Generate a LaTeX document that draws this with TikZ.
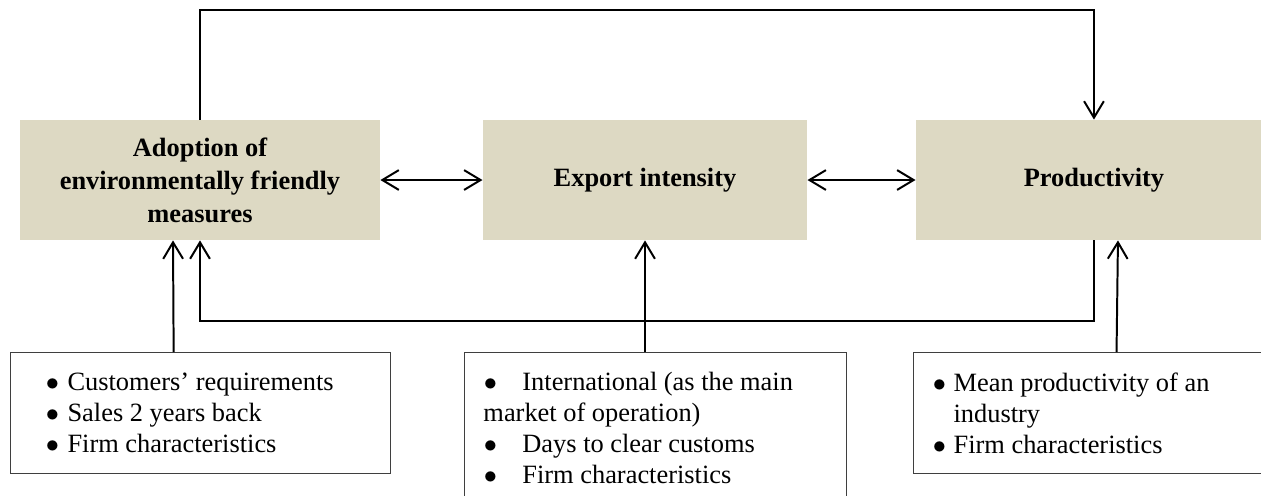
\documentclass[tikz,border=0pt]{standalone}
\usepackage{fontspec}
\setmainfont{Liberation Serif}
\usepackage{tikz}
\usetikzlibrary{arrows.meta,positioning,calc}
\definecolor{fgTan}{HTML}{DDD9C3}
\definecolor{fgInk}{HTML}{000000}
\definecolor{fgFrame}{HTML}{3F3F3F}
\newcommand{\bul}{$\bullet$}
\tikzset{
  % Tan outcome box
  mainbox/.style={rectangle,minimum height=54.5pt,
    align=center,draw=none,fill=fgTan,
    font=\fontsize{12pt}{15pt}\selectfont\bfseries,text=fgInk},
  % White determinants box
  notebox/.style={rectangle,draw=fgFrame,line width=0.5pt,fill=white,
    align=flush left,font=\fontsize{12pt}{14.1pt}\selectfont,text=fgInk},
  % Arrows
  arr/.style={-{Straight Barb[length=7.5pt,width=9pt]},line width=0.9pt,color=fgInk},
  arrd/.style={{Straight Barb[length=7.5pt,width=9pt]}-{Straight Barb[length=7.5pt,width=9pt]},
    line width=0.9pt,color=fgInk},
}

\begin{document}
\begin{tikzpicture}[x=0.4545pt,y=-0.4545pt]
  \useasboundingbox (0,0) rectangle (1261,495);
  \clip (0,0) rectangle (1261,495);

  \node[mainbox,minimum width=163.6pt] (adopt) at (200,180)
    {Adoption of\\environmentally friendly\\measures};
  \node[mainbox,minimum width=147.3pt,right=46.4pt of adopt] (expo)
    {Export intensity};
  \node[mainbox,minimum width=161.8pt,right=49.1pt of expo] (prod)
    {Productivity};

  % Determinants
  \node[notebox,anchor=north west,text width=155pt,inner xsep=8.9pt,
    minimum height=55pt] (det1) at (10,352)
    {\hspace*{7.2pt}\makebox[9.8pt][l]{\bul}Customers’ requirements\\
     \hspace*{7.2pt}\makebox[9.8pt][l]{\bul}Sales 2 years back\\
     \hspace*{7.2pt}\makebox[9.8pt][l]{\bul}Firm characteristics};
  \node[notebox,anchor=north west,text width=156.4pt,inner xsep=8.6pt,
    minimum height=68.2pt] (det2) at (464,352)
    {\hspace*{0.2pt}\makebox[17.5pt][l]{\bul}International (as the main\\
     market of operation)\\
     \hspace*{0.2pt}\makebox[17.5pt][l]{\bul}Days to clear customs\\
     \hspace*{0.2pt}\makebox[17.5pt][l]{\bul}Firm characteristics};
  \node[notebox,anchor=north west,text width=162.7pt,inner xsep=5pt,
    minimum height=55pt] (det3) at (913,352)
    {\hspace*{3.8pt}\makebox[9.4pt][l]{\bul}Mean productivity of an\\
     \hspace*{13.2pt}industry\\
     \hspace*{3.8pt}\makebox[9.4pt][l]{\bul}Firm characteristics};

  \draw[arrd] (adopt) -- (expo);
  \draw[arrd] (expo) -- (prod);
  \draw[arr] (adopt.north) -- ++(0,-110) -| (prod.north);
  \draw[arr] (prod.south) -- ++(0,81) -| (adopt.south);

  \draw[arr] ($(det1.north)+(-27,0)$) -- ($(adopt.south)+(-27,0)$);
  \draw[arr] (det2.north -| expo.south) -- (expo.south);
  \draw[arr] ($(det3.north)+(13,0)$) -- ($(prod.south)+(24,0)$);
\end{tikzpicture}
\end{document}
